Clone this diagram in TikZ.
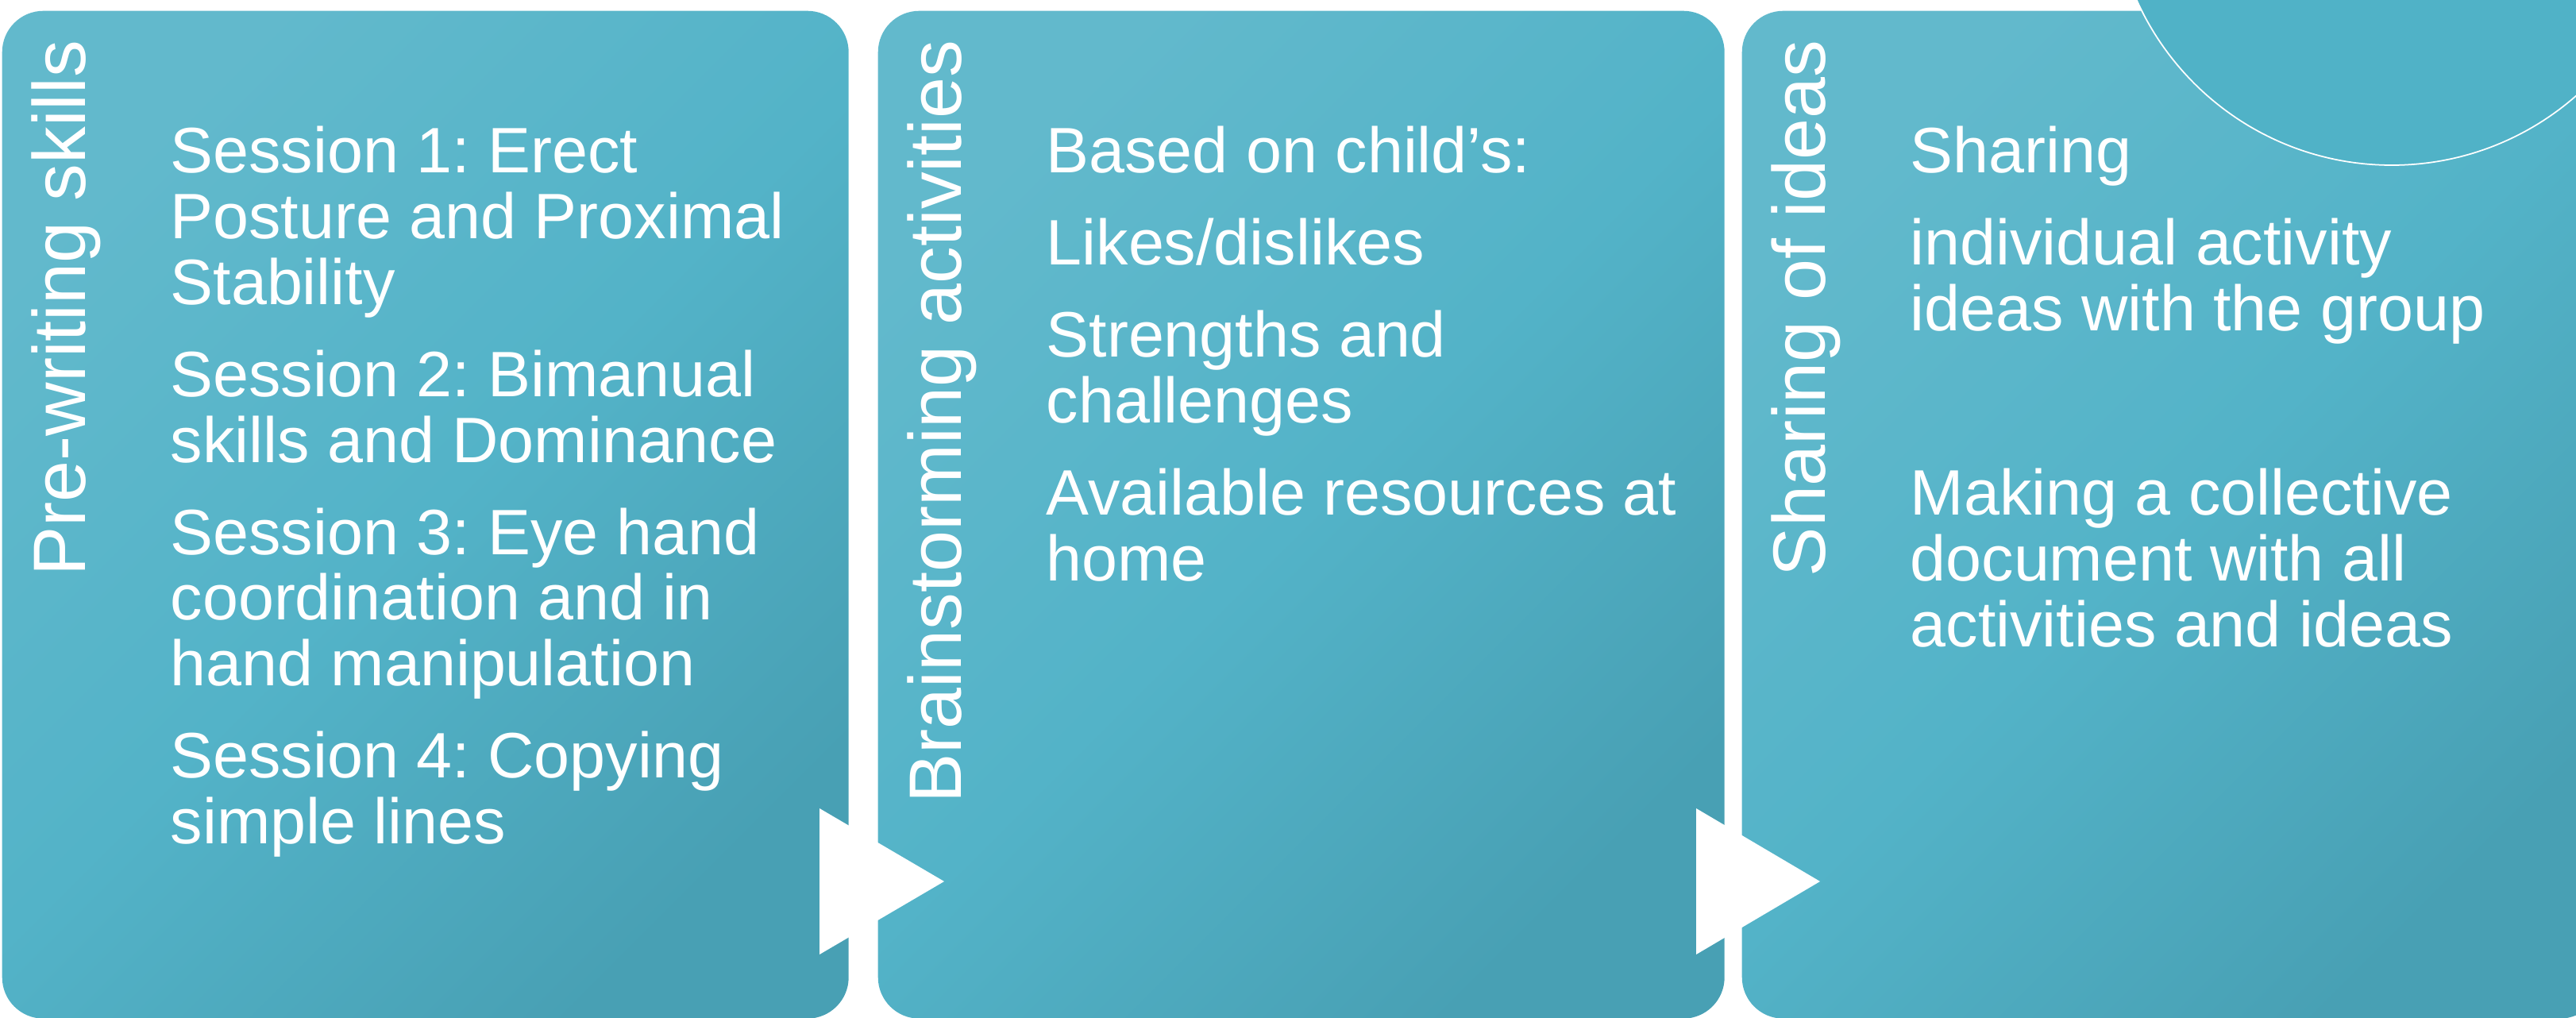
\documentclass[tikz,border=0pt]{standalone}
\usepackage{fontspec}
\setmainfont{Liberation Sans}
\usetikzlibrary{calc}

\definecolor{tealLight}{HTML}{62B9CC}
\definecolor{tealMid}{HTML}{53B3C8}
\definecolor{tealDark}{HTML}{48A0B4}
\definecolor{tealRing}{HTML}{50B2C7}

\begin{document}
\frenchspacing
\begin{tikzpicture}[
  panel/.style={
    rounded corners=0.52cm,
    minimum width=10.66cm,
    minimum height=12.69cm,
    inner sep=0pt,
    anchor=north west,
    top color=tealLight,
    bottom color=tealDark,
    middle color=tealMid,
    shading angle=45
  },
  heading/.style={
    rotate=90,
    anchor=base east,
    inner sep=0pt,
    text=white,
    font=\fontsize{26.6}{32}\selectfont
  },
  body/.style={
    anchor=north west,
    inner sep=0pt,
    align=left,
    text=white,
    font=\fontsize{23}{23.6}\selectfont
  },
  pointer/.style={fill=white},
  ring/.style={
    circle,
    minimum size=7.04cm,
    inner sep=0pt,
    fill=tealRing,
    draw=white,
    line width=0.5pt
  }
]

\useasboundingbox (0,0) rectangle (32.44,-12.82);
\clip (0,0) rectangle (32.44,-12.82);

% Three stage panels, left to right.
\node[panel] (prewriting) at (0.02,-0.13) {};
\node[panel] (brainstorm) at (11.05,-0.13) {};
\node[panel, minimum width=10.82cm] (sharing) at (21.93,-0.13) {};

% Decorative ring over the last panel.
\node[ring] (ring) at (30.12,1.44) {};

% Vertical stage titles.
\node[heading] (prewriting-title) at ([shift={(1.05,-0.37)}]prewriting.north west) {Pre-writing skills};
\node[heading] (brainstorm-title) at ([shift={(1.05,-0.37)}]brainstorm.north west) {Brainstorming activities};
\node[heading] (sharing-title)    at ([shift={(1.05,-0.37)}]sharing.north west) {Sharing of ideas};

% Stage contents.
\node[body] (prewriting-text) at ([shift={(2.12,-1.45)}]prewriting.north west)
{Session 1: Erect\\
Posture and Proximal\\
Stability\\[0.33cm]
Session 2: Bimanual\\
skills and Dominance\\[0.33cm]
Session 3: Eye hand\\
coordination and in\\
hand manipulation\\[0.33cm]
Session 4: Copying\\
simple lines};

\node[body] (brainstorm-text) at ([shift={(2.12,-1.45)}]brainstorm.north west)
{Based on child’s:\\[0.33cm]
Likes/dislikes\\[0.33cm]
Strengths and\\
challenges\\[0.33cm]
Available resources at\\
home};

\node[body] (sharing-text) at ([shift={(2.12,-1.45)}]sharing.north west)
{Sharing\\[0.33cm]
individual activity\\
ideas with the group\\[1.49cm]
Making a collective\\
document with all\\
activities and ideas};

% Arrow heads between panels.
\fill[pointer] (10.32,-10.18) -- (11.89,-11.10) -- (10.32,-12.02) -- cycle;
\fill[pointer] (21.36,-10.18) -- (22.92,-11.10) -- (21.36,-12.02) -- cycle;

\end{tikzpicture}
\end{document}
